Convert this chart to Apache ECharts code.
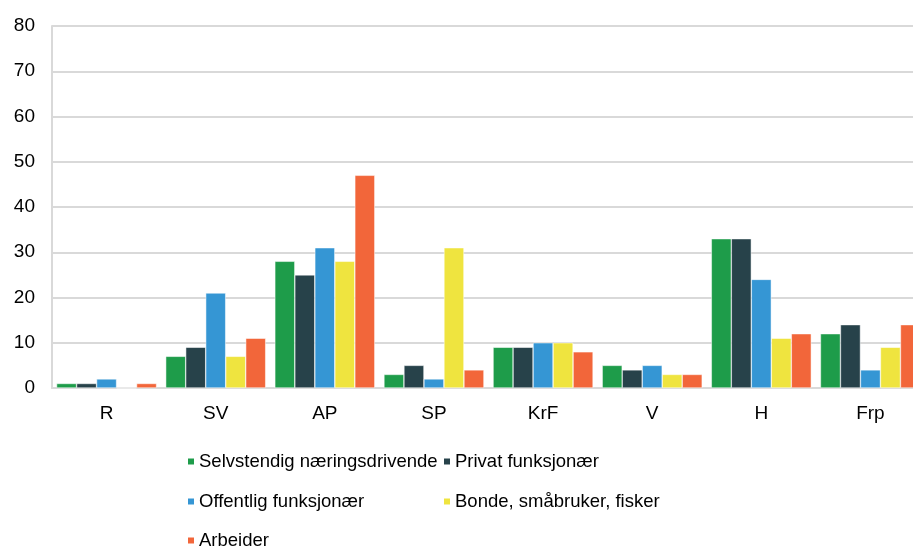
<!DOCTYPE html>
<html>
<head>
<meta charset="utf-8">
<script src="https://cdn.jsdelivr.net/npm/echarts@6/dist/echarts.min.js"></script>
<style>
  html, body { margin: 0; padding: 0; background: #fff; }
  #chart { width: 913px; height: 549px; }
</style>
</head>
<body>
<div id="chart"></div>
<script>
var parties = ['R', 'SV', 'AP', 'SP', 'KrF', 'V', 'H', 'Frp'];
var seriesNames = ['Selvstendig næringsdrivende', 'Privat funksjonær', 'Offentlig funksjonær', 'Bonde, småbruker, fisker', 'Arbeider'];
var colors = ['#1e9c4a', '#27424a', '#3596d4', '#efe43f', '#f2663a'];
var selvstendig = [1, 7, 28, 3, 9, 5, 33, 12];
var privat = [1, 9, 25, 5, 9, 4, 33, 14];
var offentlig = [2, 21, 31, 2, 10, 5, 24, 4];
var bonde = [0, 7, 28, 31, 10, 3, 11, 9];
var arbeider = [1, 11, 47, 4, 8, 3, 12, 14];
var yTicks = [0, 80, 10];

var chart = echarts.init(document.getElementById('chart'));
var allValues = [selvstendig, privat, offentlig, bonde, arbeider];
var font = 'Liberation Sans, Arial, sans-serif';

// legend positions: two columns, three rows
var legendPos = [[186, 452], [442, 452], [186, 492], [442, 492], [186, 531]];

var legends = seriesNames.map(function (name, i) {
    return {
        data: [name],
        left: legendPos[i][0],
        top: legendPos[i][1],
        padding: 0,
        itemWidth: 8,
        itemHeight: 8,
        itemGap: 0,
        icon: 'rect',
        textStyle: {color: '#000', fontSize: 18.5, fontFamily: font, padding: [0, 0, 0, -1]}
    };
});

var series = seriesNames.map(function (name, i) {
    return {
        name: name,
        type: 'bar',
        data: allValues[i],
        barWidth: 20,
        barGap: 0,
        itemStyle: {color: colors[i], borderColor: '#fff', borderWidth: 0.5}
    };
});

var option = {
    animation: false,
    // plot runs past the right edge of the picture
    grid: {left: 52, width: 873, top: 26, bottom: 161, outerBoundsMode: 'none', containLabel: false},
    legend: legends,
    xAxis: {
        type: 'category',
        data: parties,
        axisLine: {lineStyle: {color: '#d9d9d9', width: 2}},
        axisTick: {show: false},
        axisLabel: {color: '#000', fontSize: 19, margin: 16, fontFamily: font}
    },
    yAxis: {
        type: 'value',
        min: yTicks[0],
        max: yTicks[1],
        interval: yTicks[2],
        axisLine: {show: true, lineStyle: {color: '#d9d9d9', width: 2}},
        axisTick: {show: false},
        splitLine: {lineStyle: {color: '#d9d9d9', width: 2}},
        axisLabel: {color: '#000', fontSize: 19, margin: 17, fontFamily: font}
    },
    series: series
};

chart.setOption(option);
</script>
</body>
</html>
